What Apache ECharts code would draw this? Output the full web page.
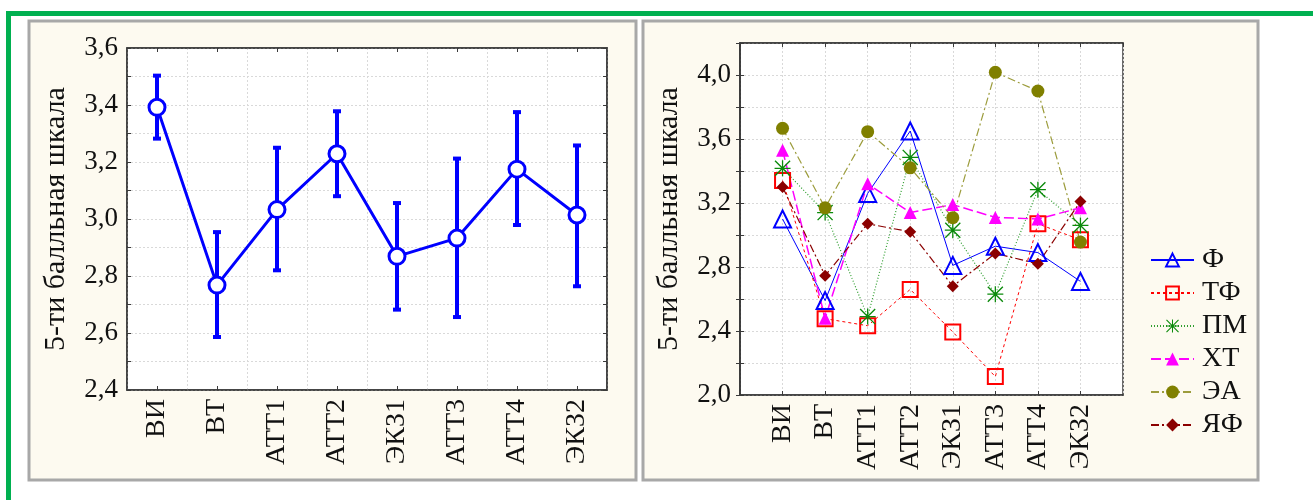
<!DOCTYPE html>
<html><head><meta charset="utf-8">
<script src="https://cdn.jsdelivr.net/npm/echarts@6/dist/echarts.min.js"></script>
<style>html,body{margin:0;padding:0;background:#fff;}#c{width:1313px;height:500px;}</style>
</head><body><div id="c"></div>
<script>
const categories = ['ВИ','ВТ','АТТ1','АТТ2','ЭКЗ1','АТТ3','АТТ4','ЭКЗ2'];
const meanVals = [3.392, 2.768, 3.033, 3.229, 2.869, 2.933, 3.175, 3.014];
const ciLow    = [3.282, 2.586, 2.820, 3.080, 2.682, 2.656, 2.979, 2.764];
const ciHigh   = [3.503, 2.954, 3.250, 3.378, 3.056, 3.212, 3.375, 3.258];
const yTitle = '5-ти балльная шкала';
const legendNames = ['Ф','ТФ','ПМ','ХТ','ЭА','ЯФ'];
const valF  = [3.10, 2.59, 3.26, 3.65, 2.81, 2.93, 2.89, 2.71];
const valTF = [3.34, 2.477, 2.433, 2.66, 2.394, 2.115, 3.07, 2.97];
const valPM = [3.417, 3.14, 2.49, 3.485, 3.03, 2.63, 3.283, 3.06];
const valXT = [3.53, 2.48, 3.32, 3.14, 3.19, 3.11, 3.10, 3.17];
const valEA = [3.667, 3.17, 3.646, 3.42, 3.108, 4.017, 3.90, 2.956];
const valYF = [3.30, 2.746, 3.07, 3.02, 2.68, 2.885, 2.82, 3.21];
const leftTickLabels = [2.4, 2.6, 2.8, 3.0, 3.2, 3.4, 3.6];
const rightTickLabels = [2.0, 2.4, 2.8, 3.2, 3.6, 4.0];

const FONT = '"Liberation Serif", "Times New Roman", serif';
const fmt = v => v.toFixed(1).replace('.', ',');
const has = (arr, v) => arr.some(t => Math.abs(t - v) < 1e-6);
const asterisk = 'path://M46 0H54V100H46Z M0 46H100V54H0Z M0 6L6 0L100 94L94 100Z M94 0L100 6L6 100L0 94Z';

const chart = echarts.init(document.getElementById('c'), null, {renderer: 'canvas'});
const gridLine = {show: true, lineStyle: {color: '#d9d9d9', type: [2, 2], width: 1}};
const axisLine = {show: true, lineStyle: {color: '#3a3a3a', width: 1.5}};
const tickIn = {show: true, inside: true, length: 4, lineStyle: {color: '#3a3a3a'}};
const lblX = {rotate: 90, fontFamily: FONT, fontSize: 28, color: '#111', margin: 9};
const lblY = {fontFamily: FONT, fontSize: 27, color: '#111', margin: 9};
const toXY = arr => arr.map((v, i) => [i + 1, v]);

function lineSeries(name, data, color, lineType, lw, symbol, size, filled, extra) {
  return Object.assign({
    name, type: 'line', xAxisIndex: 2, yAxisIndex: 2, data: toXY(data),
    symbol, symbolSize: size,
    lineStyle: {color, type: lineType, width: lw},
    itemStyle: filled ? {color} : {color: 'rgba(0,0,0,0)', borderColor: color, borderWidth: 2},
    emphasis: {disabled: true}, animation: false
  }, extra || {});
}

const option = {
  animation: false,
  graphic: [
    {type: 'rect', shape: {x: 6, y: 11, width: 1307, height: 5}, style: {fill: '#00B050'}, z: 0},
    {type: 'rect', shape: {x: 6, y: 11, width: 5, height: 489}, style: {fill: '#00B050'}, z: 0},
    {type: 'rect', shape: {x: 29, y: 21, width: 607, height: 459}, style: {fill: '#FDFAF0', stroke: '#A8A8A8', lineWidth: 3}, z: -10},
    {type: 'rect', shape: {x: 643, y: 21, width: 615, height: 459}, style: {fill: '#FDFAF0', stroke: '#A8A8A8', lineWidth: 3}, z: -10},
    {type: 'text', x: 56, y: 219, rotation: Math.PI / 2, style: {text: yTitle, fontFamily: FONT, fontSize: 30, fill: '#111', align: 'center', verticalAlign: 'middle'}},
    {type: 'text', x: 669, y: 219, rotation: Math.PI / 2, style: {text: yTitle, fontFamily: FONT, fontSize: 30, fill: '#111', align: 'center', verticalAlign: 'middle'}}
  ],
  grid: [
    {left: 127, top: 48, width: 480, height: 342, show: true, backgroundColor: '#fff', borderColor: '#3a3a3a', borderWidth: 1.5},
    {left: 740, top: 43, width: 383, height: 352, show: true, backgroundColor: '#fff', borderColor: '#3a3a3a', borderWidth: 1.5}
  ],
  xAxis: [
    {type: 'category', gridIndex: 0, data: categories, boundaryGap: true, axisLine, axisTick: Object.assign({alignWithLabel: true}, tickIn), axisLabel: lblX, splitLine: gridLine},
    {type: 'category', gridIndex: 0, data: categories, position: 'top', boundaryGap: true, axisLine, axisTick: Object.assign({alignWithLabel: true}, tickIn), axisLabel: {show: false}},
    {type: 'value', gridIndex: 1, min: 0, max: 9, interval: 1, axisLine, axisTick: tickIn, splitLine: gridLine,
     axisLabel: Object.assign({}, lblX, {formatter: v => categories[v - 1] || '', showMinLabel: false, showMaxLabel: false})},
    {type: 'value', gridIndex: 1, min: 0, max: 9, interval: 1, position: 'top', axisLine, axisTick: tickIn, axisLabel: {show: false}, splitLine: {show: false}}
  ],
  yAxis: [
    {type: 'value', gridIndex: 0, min: 2.4, max: 3.6, interval: 0.1, axisLine, axisTick: tickIn, splitLine: gridLine,
     axisLabel: Object.assign({}, lblY, {formatter: v => has(leftTickLabels, v) ? fmt(v) : ''})},
    {type: 'value', gridIndex: 0, min: 2.4, max: 3.6, interval: 0.1, position: 'right', axisLine, axisTick: tickIn, axisLabel: {show: false}, splitLine: {show: false}},
    {type: 'value', gridIndex: 1, min: 2.0, max: 4.2, interval: 0.2, axisLine, axisTick: tickIn, splitLine: gridLine,
     axisLabel: Object.assign({}, lblY, {formatter: v => has(rightTickLabels, v) ? fmt(v) : ''})},
    {type: 'value', gridIndex: 1, min: 2.0, max: 4.2, interval: 0.2, position: 'right', axisLine, axisTick: tickIn, axisLabel: {show: false}, splitLine: {show: false}}
  ],
  legend: {
    orient: 'vertical', left: 1145, top: 241, itemWidth: 43, itemHeight: 16, itemGap: 5,
    data: legendNames,
    textStyle: {fontFamily: FONT, fontSize: 28, color: '#111', lineHeight: 27, padding: [0, 0, 0, 3]},
    selectedMode: false
  },
  series: [
    {
      type: 'custom', xAxisIndex: 0, yAxisIndex: 0, z: 2,
      data: categories.map((c, i) => [i, ciLow[i], ciHigh[i]]),
      renderItem: (params, api) => {
        const lo = api.coord([api.value(0), api.value(1)]);
        const hi = api.coord([api.value(0), api.value(2)]);
        const st = {stroke: '#0000FF', lineWidth: 4};
        const cw = 4;
        return {type: 'group', children: [
          {type: 'line', shape: {x1: lo[0], y1: lo[1], x2: hi[0], y2: hi[1]}, style: st},
          {type: 'line', shape: {x1: lo[0] - cw, y1: lo[1], x2: lo[0] + cw, y2: lo[1]}, style: st},
          {type: 'line', shape: {x1: hi[0] - cw, y1: hi[1], x2: hi[0] + cw, y2: hi[1]}, style: st}
        ]};
      }
    },
    {
      type: 'line', xAxisIndex: 0, yAxisIndex: 0, data: meanVals, z: 3,
      symbol: 'circle', symbolSize: 16,
      lineStyle: {color: '#0000FF', width: 3},
      itemStyle: {color: '#fff', borderColor: '#0000FF', borderWidth: 3}
    },
    lineSeries('Ф', valF, '#0000FF', 'solid', 1, 'triangle', 17, false),
    lineSeries('ТФ', valTF, '#FF0000', [3, 3], 1, 'rect', 15, false),
    lineSeries('ПМ', valPM, '#008A00', [1, 2], 1.2, asterisk, 16, true, {itemStyle: {color: '#0B8A0B'}, lineStyle: {color: '#2E9E2E', type: [1, 2], width: 1.2}}),
    lineSeries('ХТ', valXT, '#FF00FF', [10, 4], 1.5, 'triangle', 13, true),
    lineSeries('ЭА', valEA, '#808000', [8, 3, 2, 3], 1.2, 'circle', 13, true, {lineStyle: {color: '#9C9C3C', type: [8, 3, 2, 3], width: 1.2}}),
    lineSeries('ЯФ', valYF, '#8B0000', [8, 3, 2, 3], 1.2, 'diamond', 12, true)
  ]
};
chart.setOption(option);
</script></body></html>
